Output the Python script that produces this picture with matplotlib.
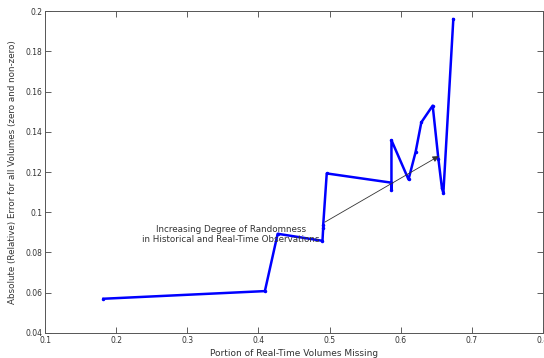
import matplotlib; matplotlib.use("Agg")
import matplotlib.pyplot as plt

# portion of real-time volumes missing vs. absolute relative error
x_missing = [0.182, 0.409, 0.427, 0.490, 0.491, 0.491, 0.496, 0.587, 0.587, 0.587,
             0.611, 0.621, 0.629, 0.645, 0.653, 0.658, 0.660, 0.674]
y_error   = [0.057, 0.0608, 0.0893, 0.0858, 0.0922, 0.0935, 0.1193, 0.1147, 0.1112, 0.1358,
             0.1163, 0.1300, 0.1447, 0.1530, 0.1265, 0.1120, 0.1095, 0.1960]

arrow_tail = (0.490, 0.0944)
arrow_head = (0.657, 0.1286)
note_text  = "Increasing Degree of Randomness\nin Historical and Real-Time Observations"

fig = plt.figure(figsize=(5.44, 3.58), dpi=100)
ax = fig.add_axes([0.083, 0.070, 0.915, 0.899])

ax.plot(x_missing, y_error, color="blue", linewidth=1.8, marker=".", markersize=3)

ax.annotate("", xy=arrow_head, xytext=arrow_tail,
            arrowprops=dict(arrowstyle="-|>", color="#333333", lw=0.6, mutation_scale=9))
ax.text(0.361, 0.089, note_text, ha="center", va="center", fontsize=6.3,
        color="#333333", linespacing=1.15)

ax.set_xlim(0.1, 0.8)
ax.set_ylim(0.04, 0.2)
ax.set_xticks([0.1, 0.2, 0.3, 0.4, 0.5, 0.6, 0.7, 0.8])
ax.set_xticklabels(["0.1", "0.2", "0.3", "0.4", "0.5", "0.6", "0.7", "0.8"])
ax.set_yticks([0.04, 0.06, 0.08, 0.1, 0.12, 0.14, 0.16, 0.18, 0.2])
ax.set_yticklabels(["0.04", "0.06", "0.08", "0.1", "0.12", "0.14", "0.16", "0.18", "0.2"])
ax.tick_params(direction="in", top=True, right=True, length=4, width=0.6,
               labelsize=5.5, labelcolor="#333333", pad=2, color="#444444")
for s in ax.spines.values():
    s.set_linewidth(0.7); s.set_color("#555555")

ax.set_xlabel("Portion of Real-Time Volumes Missing", fontsize=6.5, color="#333333", labelpad=3)
ax.set_ylabel("Absolute (Relative) Error for all Volumes (zero and non-zero)", fontsize=6.3,
              color="#333333", labelpad=6)

fig.savefig("out.png", dpi=100)
